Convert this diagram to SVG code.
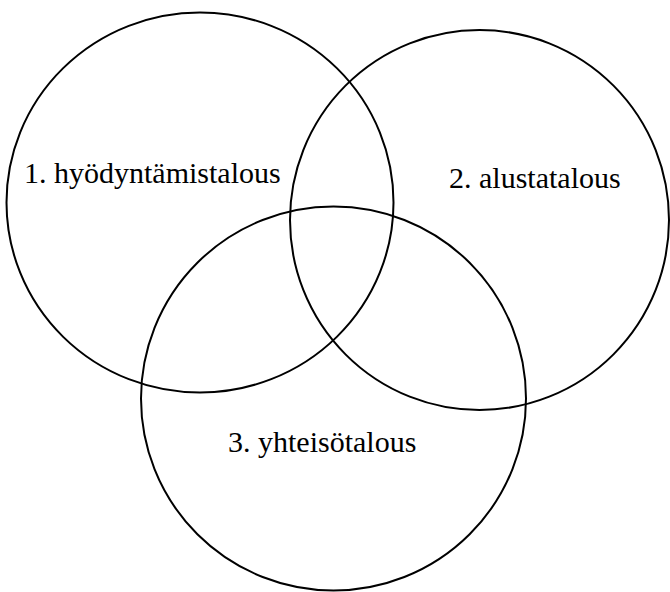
<svg xmlns="http://www.w3.org/2000/svg" width="670" height="592" viewBox="0 0 670 592">
<style>
.c{fill:none;stroke:#000;stroke-width:2}
.t{font-family:"Liberation Serif","Times New Roman",serif;font-size:30px;fill:#000}
</style>
<rect width="670" height="592" fill="#fff"/>
<g id="set1">
<ellipse class="c" cx="200" cy="202.5" rx="193.5" ry="190"/>
<text class="t" x="24" y="183">1. hyödyntämistalous</text>
</g>
<g id="set2">
<ellipse class="c" cx="479.5" cy="220" rx="189.5" ry="190"/>
<text class="t" x="449" y="188">2. alustatalous</text>
</g>
<g id="set3">
<ellipse class="c" cx="333.5" cy="398.5" rx="192.5" ry="192"/>
<text class="t" x="228" y="452">3. yhteisötalous</text>
</g>
<g id="connectors"></g>
</svg>
